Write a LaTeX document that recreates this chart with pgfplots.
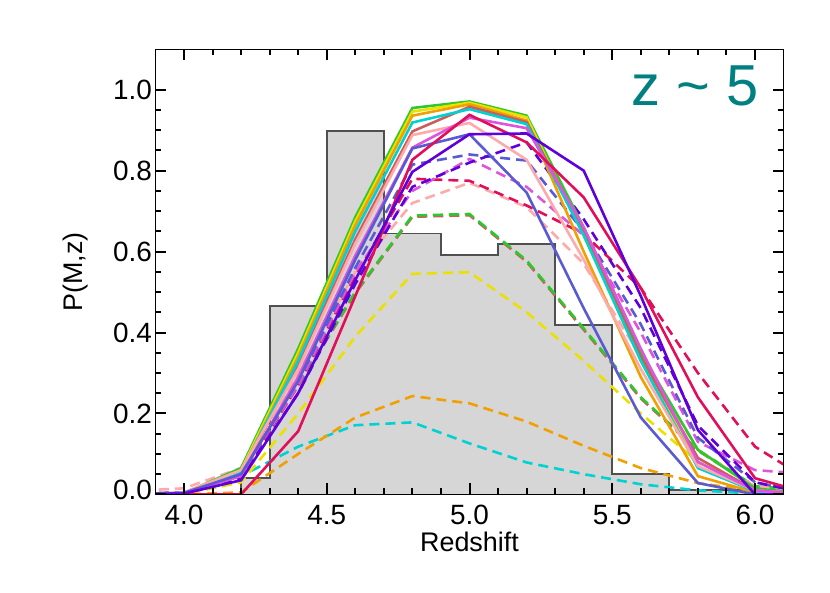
\documentclass[border=0pt]{standalone}
\usepackage{pgfplots}
\usepackage{pgfplotstable}
\pgfplotsset{compat=1.18}
\usepackage{fontspec}
\setmainfont{Liberation Sans}

\definecolor{cgreen}{RGB}{45,200,45}
\definecolor{cyellow}{RGB}{235,225,0}
\definecolor{corange}{RGB}{240,160,0}
\definecolor{cired}{RGB}{205,92,92}
\definecolor{ccyan}{RGB}{0,210,210}
\definecolor{csalmon}{RGB}{255,170,170}
\definecolor{corchid}{RGB}{220,85,220}
\definecolor{cslate}{RGB}{90,90,210}
\definecolor{ccrimson}{RGB}{225,15,90}
\definecolor{cviolet}{RGB}{95,0,220}
\definecolor{histfill}{RGB}{214,214,214}
\definecolor{histedge}{RGB}{80,80,80}
\definecolor{teal5}{RGB}{0,128,128}

% solid curves, P(M,z) on a grid of 0.2 in z
\pgfplotstableread{
x    g     y     o     ir    c     s     m     sb    cr    bv
3.8  0     0     0     0     0     0     0     0     0     0
4.0  0.003 0.003 0.003 0.003 0.003 0.005 0.003 0.004 0     0.002
4.2  0.065 0.060 0.055 0.050 0.055 0.060 0.045 0.050 0     0.035
4.4  0.360 0.350 0.340 0.320 0.330 0.310 0.290 0.280 0.156 0.250
4.6  0.685 0.675 0.665 0.630 0.650 0.620 0.590 0.580 0.490 0.530
4.8  0.955 0.946 0.936 0.897 0.919 0.888 0.857 0.855 0.827 0.797
5.0  0.971 0.968 0.964 0.958 0.952 0.918 0.931 0.890 0.938 0.890
5.2  0.936 0.932 0.924 0.920 0.915 0.827 0.905 0.746 0.870 0.892
5.4  0.660 0.640 0.600 0.650 0.640 0.580 0.660 0.460 0.734 0.800
5.6  0.350 0.330 0.290 0.340 0.330 0.310 0.360 0.190 0.510 0.490
5.8  0.110 0.080 0.045 0.090 0.065 0.070 0.080 0.028 0.240 0.159
6.0  0.015 0.010 0.005 0.010 0.008 0.010 0.010 0     0.040 0
6.2  0     0     0     0     0     0     0     0     0     0
}\solid

% dashed curves
\pgfplotstableread{
x    bv    sb    m     cr    s     g     ir    y     o     c
3.8  0     0     0     0     0.008 0     0     0     0     0
4.0  0.005 0.005 0.005 0.004 0.015 0.004 0.004 0     0     0.005
4.2  0.040 0.050 0.050 0.045 0.065 0.050 0.048 0.030 0.005 0.045
4.4  0.250 0.280 0.270 0.270 0.300 0.270 0.268 0.200 0.100 0.118
4.6  0.520 0.560 0.550 0.540 0.550 0.500 0.497 0.390 0.190 0.171
4.8  0.760 0.815 0.750 0.780 0.720 0.689 0.686 0.545 0.243 0.178
5.0  0.820 0.840 0.829 0.775 0.770 0.693 0.690 0.549 0.225 0.126
5.2  0.870 0.825 0.760 0.714 0.710 0.578 0.575 0.450 0.180 0.079
5.4  0.680 0.650 0.640 0.644 0.570 0.410 0.407 0.330 0.120 0.050
5.6  0.460 0.420 0.400 0.510 0.340 0.240 0.237 0.200 0.065 0.025
5.8  0.170 0.140 0.130 0.300 0.110 0.110 0.108 0.080 0.028 0.010
6.0  0.030 0.030 0.060 0.118 0.020 0.020 0.019 0.010 0.008 0.002
6.2  0     0     0.050 0.030 0.010 0.010 0.010 0     0     0
}\dashed

\begin{document}
\begin{tikzpicture}
\path[use as bounding box] (-155.4bp,-98.6bp) rectangle (674.6bp,494.4bp);
\begin{axis}[
  at={(0,0)}, anchor=south west,
  scale only axis, width=628.2bp, height=445.1bp,
  xmin=3.9, xmax=6.1, ymin=0, ymax=1.1,
  axis on top,
  xtick={4,4.5,5,5.5,6}, minor x tick num=4,
  xticklabels={4.0,4.5,5.0,5.5,6.0},
  ytick={0,0.2,0.4,0.6,0.8,1.0}, minor y tick num=3,
  yticklabels={\raisebox{10bp}{0.0},0.2,0.4,0.6,0.8,1.0},
  tick align=inside,
  major tick length=11bp, minor tick length=6bp,
  axis line style={line width=1.5bp, black},
  every tick/.append style={line width=2bp, black},
  xticklabel style={font=\fontsize{28}{30}\selectfont, yshift=-7bp},
  yticklabel style={font=\fontsize{28}{30}\selectfont},
  xlabel={Redshift},
  ylabel={P(M,z)},
  xlabel style={font=\fontsize{27}{29}\selectfont, at={(axis description cs:0.5,-0.106)}, anchor=center},
  ylabel style={font=\fontsize{27}{29}\selectfont, at={(axis description cs:-0.127,0.5)}, anchor=center},
]
% histogram
\addplot[const plot, fill=histfill, draw=histedge, line width=1.8bp] coordinates {
  (4.2,0) (4.2,0.04) (4.3,0.466) (4.5,0.898) (4.7,0.645) (4.9,0.591)
  (5.1,0.618) (5.3,0.418) (5.5,0.05) (5.7,0.01) (6.0,0.01) (6.0,0)
} \closedcycle;

% dashed curves
\addplot[line width=2.6bp, dash pattern=on 10bp off 6bp, color=ccyan] table[x=x,y=c] {\dashed};
\addplot[line width=2.6bp, dash pattern=on 10bp off 6bp, color=corange] table[x=x,y=o] {\dashed};
\addplot[line width=2.6bp, dash pattern=on 10bp off 6bp, color=cyellow] table[x=x,y=y] {\dashed};
\addplot[line width=2.6bp, dash pattern=on 10bp off 6bp, color=cired] table[x=x,y=ir] {\dashed};
\addplot[line width=2.6bp, dash pattern=on 10bp off 6bp, color=cgreen] table[x=x,y=g] {\dashed};
\addplot[line width=2.6bp, dash pattern=on 10bp off 6bp, color=csalmon] table[x=x,y=s] {\dashed};
\addplot[line width=2.6bp, dash pattern=on 10bp off 6bp, color=ccrimson] table[x=x,y=cr] {\dashed};
\addplot[line width=2.6bp, dash pattern=on 10bp off 6bp, color=corchid] table[x=x,y=m] {\dashed};
\addplot[line width=2.6bp, dash pattern=on 10bp off 6bp, color=cslate] table[x=x,y=sb] {\dashed};
\addplot[line width=2.6bp, dash pattern=on 10bp off 6bp, color=cviolet] table[x=x,y=bv] {\dashed};

% solid curves
\addplot[line width=2.6bp, color=cgreen] table[x=x,y=g] {\solid};
\addplot[line width=2.6bp, color=cyellow] table[x=x,y=y] {\solid};
\addplot[line width=2.6bp, color=corange] table[x=x,y=o] {\solid};
\addplot[line width=2.6bp, color=cired] table[x=x,y=ir] {\solid};
\addplot[line width=2.6bp, color=ccyan] table[x=x,y=c] {\solid};
\addplot[line width=2.6bp, color=csalmon] table[x=x,y=s] {\solid};
\addplot[line width=2.6bp, color=corchid] table[x=x,y=m] {\solid};
\addplot[line width=2.6bp, color=cslate] table[x=x,y=sb] {\solid};
\addplot[line width=2.6bp, color=ccrimson] table[x=x,y=cr] {\solid};
\addplot[line width=2.6bp, color=cviolet] table[x=x,y=bv] {\solid};

\node[text=teal5, font=\fontsize{58}{60}\selectfont, anchor=center] at (axis cs:5.79,1.01) {z \textasciitilde{} 5};
\end{axis}
\end{tikzpicture}
\end{document}
